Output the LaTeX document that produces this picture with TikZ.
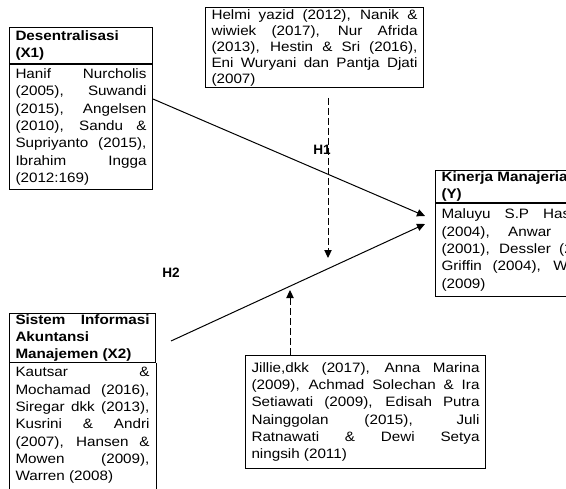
\documentclass[tikz,border=0pt]{standalone}
\usepackage{fontspec}
\setmainfont{Liberation Sans}
\newfontfamily\fwide[FakeStretch=1.12]{Liberation Sans}
\newcommand{\fsz}{\fontsize{10.2pt}{13pt}\selectfont}
\newcommand{\fszt}{\fontsize{10.2pt}{12pt}\selectfont}
\usetikzlibrary{arrows.meta,calc}
\begin{document}
\begin{tikzpicture}[x=0.75pt,y=-0.75pt,
  box/.style={draw, line width=0.75pt, anchor=north west, align=justify,
    inner xsep=4.5pt, inner ysep=0pt, font=\fwide\fsz},
  hd/.style={font=\fwide\fsz\bfseries},
  tight/.style={font=\fwide\fszt},
  edge/.style={line width=0.75pt},
  arr/.style={line width=0.75pt, -{Triangle[length=6pt,width=5.5pt]}},
  darr/.style={arr, dash pattern=on 5pt off 2.5pt},
  hlab/.style={font=\fsz\bfseries, inner sep=0pt}]
\useasboundingbox (0,0) rectangle (566,488);
\clip (0,0) rectangle (566,488);

% X1
\node[box, hd, text width=98.25pt, minimum width=107.25pt, minimum height=27pt] (x1h) at (9,27) {Desentralisasi\\(X1)};
\node[box, text width=98.25pt, minimum width=107.25pt, minimum height=93.75pt] (x1b) at (x1h.south west)
 {Hanif Nurcholis\linebreak (2005), Suwandi\linebreak (2015), Angelsen\linebreak (2010), Sandu \&\linebreak Supriyanto (2015),\linebreak Ibrahim Ingga\linebreak (2012:169)};

% X2
\node[box, hd, text width=100.5pt, minimum width=109.5pt, minimum height=36.75pt] (x2h) at (9,313) {Sistem Informasi\linebreak Akuntansi\\Manajemen (X2)};
\node[box, draw=none, text width=100.5pt, minimum width=109.5pt, inner ysep=3pt] (x2b) at (x2h.south west)
 {Kautsar \&\linebreak Mochamad (2016),\linebreak Siregar dkk (2013),\linebreak Kusrini \& Andri\linebreak (2007), Hansen \&\linebreak Mowen (2009),\linebreak Warren (2008)};
\draw[edge] (x2b.north west) -- ++(0,150);
\draw[edge] (x2b.north east) -- ++(0,150);

% top citations
\node[box, tight, text width=154.5pt, minimum width=163.5pt, minimum height=60pt] (td) at (205,7)
 {Helmi yazid (2012), Nanik \&\linebreak wiwiek (2017), Nur Afrida\linebreak (2013), Hestin \& Sri (2016),\linebreak Eni Wuryani dan Pantja Djati\linebreak (2007)};

% bottom citations
\node[box, text width=171pt, minimum width=180pt, minimum height=84.75pt] (bt) at (245,355)
 {Jillie,dkk (2017), Anna Marina\linebreak (2009), Achmad Solechan \& Ira\linebreak Setiawati (2009), Edisah Putra\linebreak Nainggolan (2015), Juli\linebreak Ratnawati \& Dewi Setya\linebreak ningsih (2011)};

% Y
\node[box, hd, text width=124.5pt, minimum width=133.5pt, minimum height=24pt] (yh) at (435,170) {Kinerja Manajerial\\(Y)};
\node[box, text width=124.5pt, minimum width=133.5pt, minimum height=69.75pt] (yb) at (yh.south west)
 {Maluyu S.P Hasibuan\linebreak (2004), Anwar Prabu\linebreak (2001), Dessler (2015),\linebreak Griffin (2004), Wibowo\linebreak (2009)};

% connectors
\coordinate (a1s) at ($(x1b.north east)+(0,35)$);
\coordinate (a1e) at ($(yh.south west)+(-10,13)$);
\coordinate (a2s) at ($(x2h.north east)+(15,28)$);
\coordinate (a2e) at ($(yh.south west)+(-10,21)$);
\draw[arr] (a1s) -- (a1e);
\draw[arr] (a2s) -- (a2e);

\coordinate (d1s) at ($(td.south west)+(123,10)$);
\coordinate (d1e) at (328,258);
\coordinate (d2s) at ($(bt.north west)+(45,0)$);
\coordinate (d2e) at (290,290);
\draw[darr] (d1s) -- (d1e);
\draw[darr] (d2s) -- (d2e);

\node[hlab] (h1) at (322,150) {H1};
\node[hlab] (h2) at (171,273) {H2};
\end{tikzpicture}
\end{document}
